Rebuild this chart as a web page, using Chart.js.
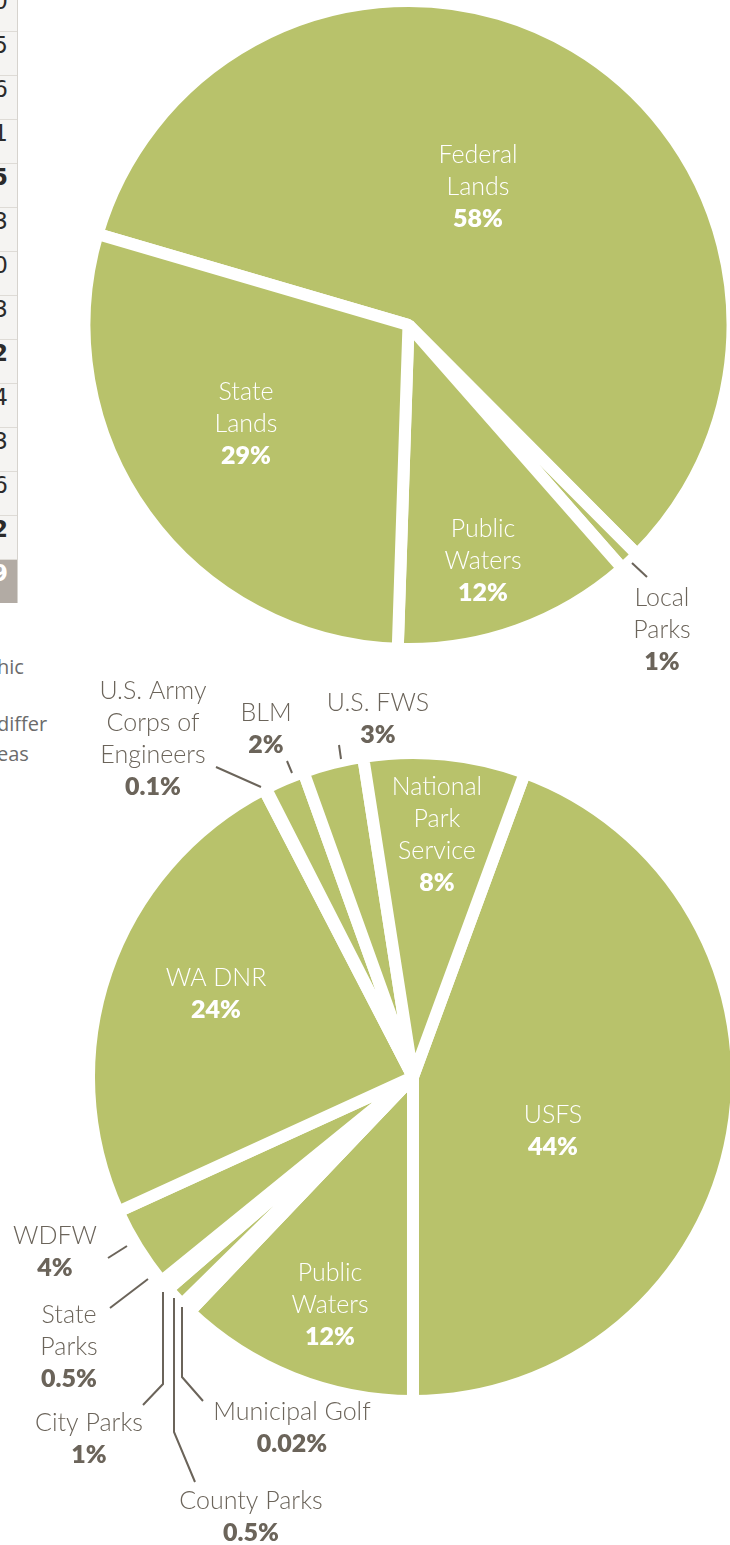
<!DOCTYPE html>
<html>
<head>
<meta charset="utf-8">
<script src="https://cdn.jsdelivr.net/npm/chart.js@4.4.1/dist/chart.umd.min.js"></script>
<style>
  html, body { margin: 0; padding: 0; background: #fff; }
  body { width: 730px; height: 1545px; position: relative; overflow: hidden; }
  canvas { position: absolute; left: 0; top: 0; }
  #table { position: absolute; left: -30px; top: -12px; width: 47px; border-right: 1px solid #d6d3ce; }
  #table div {
    height: 43px; line-height: 44px; border-bottom: 1px solid #dedbd6; background: #f5f4f2;
    text-align: right; padding-right: 9px; font: 23px "DejaVu Sans", sans-serif; color: #2b2b2b;
  }
  #table div.b { font-weight: bold; }
  #table div.total { background: #b2aba4; color: #fff; font-weight: bold; border-bottom: none; }
  .note { position: absolute; left: -3px; font: 20px "Open Sans", sans-serif; color: #6b6b6b; white-space: nowrap; }
</style>
</head>
<body>
<div id="table"></div>
<div class="note" style="top:653px">hic</div>
<div class="note" style="top:710px">differ</div>
<div class="note" style="top:740px">eas</div>
<canvas id="top" width="730" height="1545"></canvas>
<canvas id="bottom" width="730" height="1545"></canvas>
<script>
// fragments of the neighbouring table, cut off at the left edge
const tableDigits = ['0', '5', '6', '1', '5', '3', '0', '3', '2', '4', '3', '6', '2', '9'];
const tableBold = [4, 8, 12];

// top pie: ownership of public recreation land
const topLabels = [['Federal', 'Lands'], ['Local', 'Parks'], ['Public', 'Waters'], ['State', 'Lands']];
const topValues = [58, 1, 12, 29];

// bottom pie: land managers
const bottomLabels = [
  ['USFS'], ['Public', 'Waters'], ['Municipal Golf'], ['County Parks'], ['City Parks'],
  ['State', 'Parks'], ['WDFW'], ['WA DNR'], ['U.S. Army', 'Corps of', 'Engineers'],
  ['BLM'], ['U.S. FWS'], ['National', 'Park', 'Service']
];
const bottomValues = [44, 12, 0.02, 0.5, 1, 0.5, 4, 24, 0.1, 2, 3, 8];

const GREEN = '#b8c26b';
const DARK = '#6b645a';

// label placement: [x, y of first line, inside (white) or outside]
const topPlace = {
  'Federal Lands': [478, 155, true],
  'Local Parks': [662, 598, false],
  'Public Waters': [483, 529, true],
  'State Lands': [246, 392, true]
};
const topLeaders = [[[632, 563], [647, 577]]];

const bottomPlace = {
  'USFS': [553, 1115, true],
  'Public Waters': [330, 1273, true],
  'Municipal Golf': [292, 1412, false],
  'County Parks': [251, 1501, false],
  'City Parks': [89, 1423, false],
  'State Parks': [69, 1315, false],
  'WDFW': [55, 1236, false],
  'WA DNR': [216, 978, true],
  'U.S. Army Corps of Engineers': [153, 691, false],
  'BLM': [266, 713, false],
  'U.S. FWS': [378, 703, false],
  'National Park Service': [437, 787, true]
};
const bottomLeaders = [
  [[216, 767], [261, 787]],
  [[287, 761], [292, 773]],
  [[339, 745], [341, 759]],
  [[108, 1258], [127, 1246]],
  [[110, 1308], [148, 1279]],
  [[143, 1405], [163, 1384], [163, 1292]],
  [[195, 1482], [174, 1432], [174, 1298]],
  [[203, 1401], [182, 1377], [182, 1307]]
];

const table = document.getElementById('table');
tableDigits.forEach((d, i) => {
  const cell = document.createElement('div');
  cell.textContent = d;
  if (tableBold.includes(i)) cell.className = 'b';
  if (i === tableDigits.length - 1) cell.className = 'total';
  table.appendChild(cell);
});

const sliceLabels = {
  id: 'sliceLabels',
  afterDatasetsDraw(chart, args, opts) {
    const ctx = chart.ctx;
    const values = chart.data.datasets[0].data;
    ctx.save();
    ctx.strokeStyle = DARK;
    ctx.lineWidth = 2;
    opts.leaders.forEach(pts => {
      ctx.beginPath();
      pts.forEach(([x, y], j) => j ? ctx.lineTo(x, y) : ctx.moveTo(x, y));
      ctx.stroke();
    });
    ctx.textAlign = 'center';
    ctx.textBaseline = 'middle';
    chart.data.labels.forEach((lines, i) => {
      const [x, y, inside] = opts.place[lines.join(' ')];
      ctx.fillStyle = inside ? '#ffffff' : DARK;
      ctx.font = '300 25px Lato, sans-serif';
      lines.forEach((t, j) => ctx.fillText(t, x, y + j * 32));
      ctx.font = '800 25px Lato, sans-serif';
      ctx.fillText(values[i] + '%', x, y + lines.length * 32);
    });
    ctx.restore();
  }
};

function makePie(id, labels, values, rotation, padding, place, leaders) {
  return new Chart(document.getElementById(id), {
    type: 'pie',
    data: {
      labels: labels,
      datasets: [{
        data: values,
        backgroundColor: GREEN,
        borderColor: '#ffffff',
        borderWidth: 12,
        clip: false
      }]
    },
    options: {
      responsive: false,
      animation: false,
      rotation: rotation,
      radius: 324,
      layout: { padding: padding },
      plugins: {
        legend: { display: false },
        tooltip: { enabled: false },
        sliceLabels: { place: place, leaders: leaders }
      }
    },
    plugins: [sliceLabels]
  });
}

makePie('top', topLabels, topValues, -73.7,
  { left: 87, right: 0, top: 0, bottom: 895 }, topPlace, topLeaders);
// USFS ends straight down
makePie('bottom', bottomLabels, bottomValues, 20.2,
  { left: 96, right: 0, top: 609, bottom: 0 }, bottomPlace, bottomLeaders);
</script>
</body>
</html>
